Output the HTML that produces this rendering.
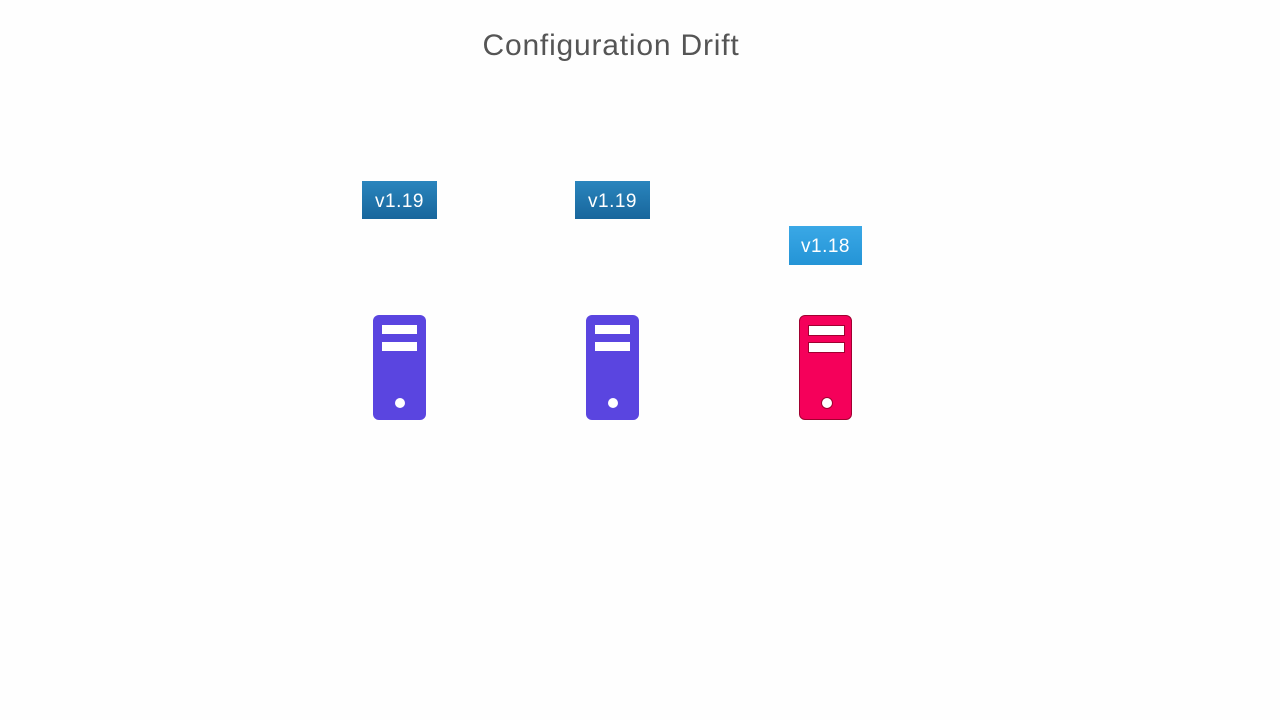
<!DOCTYPE html>
<html><head><style>
body{margin:0;width:1280px;height:720px;background:#fefefe;position:relative;overflow:hidden;font-family:"Liberation Sans",sans-serif}
.t{position:absolute;top:29px;left:0;width:1222px;text-align:center;font-size:30px;color:#555;letter-spacing:0.8px}
.l{position:absolute;height:38px;color:#fff;font-size:19px;line-height:41px;text-align:center;letter-spacing:0.5px}
.s{position:absolute;top:315px;width:53px;height:105px;border-radius:6px;box-sizing:border-box}
.s i{position:absolute;left:9px;width:35px;height:9px;background:#fff}
.s b{position:absolute;left:22px;top:83px;width:10px;height:10px;border-radius:50%;background:#fff}
</style></head><body>
<div class="t">Configuration Drift</div>
<div class="l" style="left:362px;top:181px;width:75px;background:linear-gradient(#2a85bd,#18669c)">v1.19</div>
<div class="l" style="left:575px;top:181px;width:75px;background:linear-gradient(#2a85bd,#18669c)">v1.19</div>
<div class="l" style="left:789px;top:226px;width:73px;height:39px;background:linear-gradient(#3aa8e6,#2494d6)">v1.18</div>
<div class="s" style="left:373px;background:#5a45e0"><i style="top:10px"></i><i style="top:27px"></i><b></b></div>
<div class="s" style="left:586px;background:#5a45e0"><i style="top:10px"></i><i style="top:27px"></i><b></b></div>
<div class="s" style="left:799px;background:#f5005a;border:1.5px solid #a00030"><i style="top:9px;left:8px;border:1px solid #a00030"></i><i style="top:26px;left:8px;border:1px solid #a00030"></i><b style="left:21px;top:81px;border:1px solid #a00030"></b></div>
</body></html>
